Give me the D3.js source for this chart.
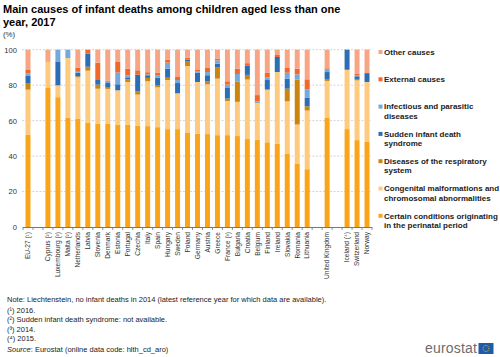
<!DOCTYPE html>
<html><head><meta charset="utf-8">
<script src="https://cdn.jsdelivr.net/npm/d3@7/dist/d3.min.js"></script>
<style>
body{margin:0;background:#fff;}
svg{display:block;font-family:"Liberation Sans",Arial,sans-serif;}
</style></head>
<body><svg id="c" width="500" height="357"></svg>
<script>
// ---- data ----
const categories = ["EU-27 (¹)","gap1","Cyprus (²)","Luxembourg (³)","Malta (²)","Netherlands","Latvia","Slovenia","Denmark","Estonia","Portugal","Czechia","Italy","Spain","Hungary","Sweden","Poland","Germany","Austria","Greece","France (³)","Bulgaria","Croatia","Belgium","Finland","Ireland","Slovakia","Romania","Lithuania","gap2","United Kingdom","gap3","Iceland (⁴)","Switzerland","Norway"];
const perinatal   = [52.0,null,78.4,73.2,61.7,61.2,58.7,58.2,58.4,57.8,57.6,57.2,56.9,56.3,55.2,55.2,53.3,52.6,52.4,51.8,51.8,51.3,49.6,49.2,47.8,46.9,41.5,35.8,32.6,null,61.5,null,55.2,49.0,48.0];
const congenital  = [25.5,null,14.7, 6.7,33.6,23.2,29.5,19.8,19.5,19.3,24.2,17.5,25.3,22.5,27.7,20.2,37.5,29.2,28.1,31.9,19.3,19.3,33.6,21.0,29.7,40.5,29.4,22.0,33.1,null,20.9,null,33.5,33.7,33.8];
const respiratory = [ 3.7,null, 0.0, 0.0, 0.0, 0.6, 2.2, 2.3, 0.7, 0.0, 1.5, 1.8, 1.9, 1.3, 1.3, 0.0, 2.8, 0.0, 1.7, 6.5, 1.3,11.5, 2.6, 0.0, 0.0, 0.0, 7.1,25.3, 2.4,null, 1.1,null, 0.0, 0.8, 0.0];
const sids        = [ 4.0,null, 0.0,13.5, 0.0, 2.0, 7.3, 2.6, 2.6, 3.4, 1.1, 9.4, 1.5, 4.1, 5.1, 5.8, 0.8, 5.3, 3.4, 1.9, 6.0, 0.0, 5.1, 0.4, 5.4, 8.5, 5.7, 0.0, 4.7,null, 3.9,null,11.3, 1.5, 5.0];
const infectious  = [ 1.5,null, 0.0, 6.6, 4.7, 1.0, 0.0, 0.0, 1.2, 6.6, 1.2, 0.0, 0.5, 1.4, 3.4, 1.7, 0.0, 0.8, 1.8, 1.9, 1.9, 4.2, 0.0, 0.4, 1.5, 0.0, 3.3, 3.0, 4.9,null, 1.3,null, 0.0, 0.6, 0.0];
const external    = [ 2.2,null, 0.0, 0.0, 0.0, 1.9, 2.3, 9.8, 0.0, 6.3, 3.7, 2.5, 1.2, 1.5, 1.7, 1.7, 1.1, 1.0, 2.3, 0.9, 1.9, 2.9, 1.5, 3.4, 2.5, 1.1, 2.7, 3.2, 5.6,null, 0.8,null, 0.0, 0.7, 0.0];
const other       = [11.1,null, 6.9, 0.0, 0.0,10.1, 0.0, 7.3,17.6, 6.6,10.7,11.6,12.7,12.9, 5.6,15.4, 4.5,11.1,10.3, 5.1,17.8,10.8, 7.6,25.6,13.1, 3.0,10.3,10.7,16.7,null,10.5,null, 0.0,13.7,13.2];
const seriesNames = ["Certain conditions originating in the perinatal period","Congenital malformations and chromosomal abnormalities","Diseases of the respiratory system","Sudden infant death syndrome","Infectious and parasitic diseases","External causes","Other causes"];
const seriesColors = ["#FAA519","#FECB7E","#C9850E","#2A6EB5","#74A9DF","#F1692A","#F8A584"];
const legendLines = [["Other causes"],["External causes"],["Infectious and parasitic","diseases"],["Sudden infant death","syndrome"],["Diseases of the respiratory","system"],["Congenital malformations and","chromosomal abnormalities"],["Certain conditions originating","in the perinatal period"]];
const yTicks = [0,20,40,60,80,100];
const notes = ["Note: Liechtenstein, no infant deaths in 2014 (latest reference year for which data are available).","(¹) 2016.","(²) Sudden infant death syndrome: not available.","(³) 2014.","(⁴) 2015."];

// ---- build ----
const keys = ["perinatal","congenital","respiratory","sids","infectious","external","other"];
const cols = [perinatal,congenital,respiratory,sids,infectious,external,other];
const table = categories.map((c,i)=>{const o={cat:c};keys.forEach((k,j)=>o[k]=cols[j][i]||0);return o;});
const stack = d3.stack().keys(keys)(table.filter(d=>!d.cat.startsWith("gap")));

const svg = d3.select("#c");
const pLeft=23, pRight=372, pTop=49.7, pBottom=227;
const x = d3.scaleBand().domain(categories).range([pLeft,pRight]).paddingInner(0.5).paddingOuter(0.25);
const y = d3.scaleLinear().domain([0,100]).range([pBottom,pTop]);

// title
svg.append("text").attr("x",3).attr("y",13).attr("font-size",11).attr("font-weight","bold").attr("fill","#000").text("Main causes of infant deaths among children aged less than one");
svg.append("text").attr("x",3).attr("y",25.5).attr("font-size",11).attr("font-weight","bold").attr("fill","#000").text("year, 2017");
svg.append("text").attr("x",3).attr("y",37).attr("font-size",7.8).attr("fill","#333").text("(%)");

// grid
svg.append("g").selectAll("line").data(yTicks.filter(t=>t>0)).join("line")
  .attr("x1",pLeft-1).attr("x2",pRight).attr("y1",d=>y(d)).attr("y2",d=>y(d))
  .attr("stroke","#c8c8c8").attr("stroke-width",0.8).attr("stroke-dasharray","2,1.5");
const ya = svg.append("g").attr("transform",`translate(${pLeft},0)`)
  .call(d3.axisLeft(y).tickValues(yTicks).tickSize(0).tickPadding(6));
ya.select(".domain").remove();
ya.selectAll("text").attr("font-size",7.6).attr("fill","#333").attr("font-family","Liberation Sans, Arial, sans-serif");

// bars
svg.append("g").selectAll("g").data(stack).join("g").attr("fill",(d,i)=>seriesColors[i])
  .selectAll("rect").data(d=>d).join("rect")
  .attr("x",d=>x(d.data.cat)).attr("width",x.bandwidth())
  .attr("y",d=>y(d[1])).attr("height",d=>Math.max(0,y(d[0])-y(d[1])));

// x axis
const xa = svg.append("g").attr("transform",`translate(0,${pBottom})`)
  .call(d3.axisBottom(x).tickSize(0).tickPadding(0).tickFormat(d=>d.startsWith("gap")?"":d));
xa.select(".domain").attr("stroke","#777").attr("d",`M${pLeft},0.5H${pRight}`);
xa.selectAll(".tick text").attr("font-size",6.6).attr("fill","#333").attr("font-family","Liberation Sans, Arial, sans-serif")
  .attr("transform","rotate(-90)").attr("text-anchor","end").attr("dx",-5).attr("dy",2.3).attr("y",0);
const step = x.step();
svg.append("g").selectAll("line").data(categories.concat(["__end"])).join("line")
  .attr("x1",(d,i)=>pLeft + (x.paddingOuter()*step) - step*x.paddingInner()/2 + i*step)
  .attr("x2",(d,i)=>pLeft + (x.paddingOuter()*step) - step*x.paddingInner()/2 + i*step)
  .attr("y1",pBottom).attr("y2",pBottom+3).attr("stroke","#777").attr("stroke-width",0.8);

// legend
const lg = svg.append("g");
const legColors = seriesColors.slice().reverse();
legendLines.forEach((lines,i)=>{
  const cy = 52 + i*27.3;
  lg.append("rect").attr("x",378.5).attr("y",cy-2).attr("width",4).attr("height",4).attr("fill",legColors[i]);
  lines.forEach((t,j)=>{
    lg.append("text").attr("x",384).attr("y",cy+2.8+j*9.3).attr("font-size",8).attr("font-weight","bold").attr("fill","#222").text(t);
  });
});

// notes
const nb=[301.5,312.5,322,331.5,340.5];
notes.forEach((t,i)=>svg.append("text").attr("x",7).attr("y",nb[i]).attr("font-size",7.5).attr("fill","#222").text(t));
const src = svg.append("text").attr("x",7).attr("y",352).attr("font-size",7.5).attr("fill","#222");
src.append("tspan").attr("font-style","italic").text("Source");
src.append("tspan").text(": Eurostat (online data code: hlth_cd_aro)");

// logo
svg.append("text").attr("x",425).attr("y",353).attr("font-size",14).attr("fill","#6d6d6d").attr("textLength",52).text("eurostat");
svg.append("rect").attr("x",478.5).attr("y",343).attr("width",15).attr("height",11).attr("fill","#1f5ba8");
svg.append("circle").attr("cx",486).attr("cy",348.5).attr("r",3).attr("fill","none").attr("stroke","#f4d21a").attr("stroke-width",0.9).attr("stroke-dasharray","0.8,0.8");
</script></body></html>
